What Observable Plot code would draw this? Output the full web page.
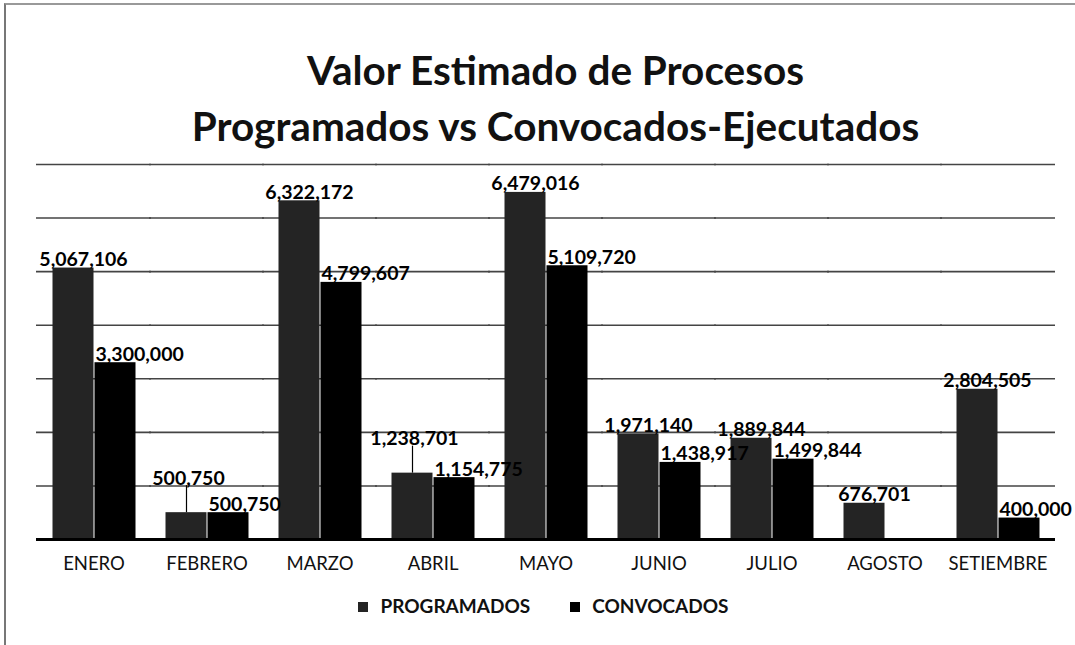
<!DOCTYPE html>
<html>
<head>
<meta charset="utf-8">
<script src="https://cdn.jsdelivr.net/npm/d3@7"></script>
<script src="https://cdn.jsdelivr.net/npm/@observablehq/plot@0.6"></script>
<style>
  html, body { margin: 0; padding: 0; background: #fff; }
  body { width: 1075px; height: 645px; overflow: hidden; font-family: Lato, "Open Sans", sans-serif; position: relative; }
  #frame { position: absolute; left: 4px; top: 3px; width: 1071px; height: 642px; border-left: 2px solid #777; border-top: 2px solid #999; box-sizing: border-box; pointer-events: none; }
  #title { height: 150px; box-sizing: border-box; padding-top: 42px; padding-left: 36px; text-align: center; font-weight: 700; font-size: 40.5px; line-height: 56px; color: #111; }
  #chart { height: 430px; }
  #legend { display: flex; justify-content: center; align-items: center; gap: 40px; padding-left: 12px; height: 50px; font-weight: 700; font-size: 19px; color: #111; }
  #legend span.sw { display: inline-block; width: 10px; height: 10px; margin-right: 12px; vertical-align: middle; position: relative; top: -1px; }
</style>
</head>
<body>
<div id="frame"></div>
<div id="title">Valor Estimado de Procesos<br>Programados vs Convocados-Ejecutados</div>
<div id="chart"></div>
<div id="legend"></div>
<script>
const months = ["ENERO", "FEBRERO", "MARZO", "ABRIL", "MAYO", "JUNIO", "JULIO", "AGOSTO", "SETIEMBRE"];
const programados = [5067106, 500750, 6322172, 1238701, 6479016, 1971140, 1889844, 676701, 2804505];
const convocados = [3300000, 500750, 4799607, 1154775, 5109720, 1438917, 1499844, null, 400000];
const seriesNames = ["PROGRAMADOS", "CONVOCADOS"];
const seriesColors = ["#242424", "#000000"];
const gridValues = [1000000, 2000000, 3000000, 4000000, 5000000, 6000000, 7000000];

const fmt = d3.format(",");
const data = months.flatMap((m, i) => [
  {month: m, serie: seriesNames[0], value: programados[i], other: convocados[i]},
  {month: m, serie: seriesNames[1], value: convocados[i], other: programados[i]}
]).filter(d => d.value != null);

const isLifted = d => d.serie === seriesNames[0] && d.other != null && Math.abs(d.value - d.other) < 150000;
const pNormal = data.filter(d => d.serie === seriesNames[0] && !isLifted(d));
const pLifted = data.filter(isLifted);
const cLabels = data.filter(d => d.serie === seriesNames[1]);

const labelStyle = {fx: "month", x: "serie", y: "value", text: d => fmt(d.value), lineAnchor: "bottom", fontWeight: "bold", fontSize: 19.5, fill: "#000"};

const chart = Plot.plot({
  width: 1075,
  height: 430,
  marginTop: 14,
  marginBottom: 41,
  marginLeft: 19,
  marginRight: 3,
  style: {fontFamily: "Lato, 'Open Sans', sans-serif", fontSize: "18.5px", color: "#111", background: "transparent"},
  fx: {domain: months, paddingInner: 0.25, paddingOuter: 0.25, label: null, axis: "bottom", tickSize: 0, tickPadding: 17},
  x: {domain: seriesNames, padding: 0, axis: null},
  y: {domain: [0, 7000000], axis: null},
  color: {domain: seriesNames, range: seriesColors},
  marks: [
    Plot.ruleY(gridValues, {stroke: "#444", strokeWidth: 1.6, insetLeft: -15, insetRight: -15}),
    Plot.barY(data, {fx: "month", x: "serie", y: "value", fill: "serie", insetLeft: 0.5, insetRight: 0.5}),
    Plot.ruleY([0], {stroke: "#000", strokeWidth: 3, insetLeft: -15, insetRight: -15}),
    Plot.ruleX(pLifted, {fx: "month", x: "serie", y1: "value", y2: "value", insetTop: -27, stroke: "#000", strokeWidth: 1.2}),
    Plot.text(pNormal, {...labelStyle, dx: 10, dy: -2}),
    Plot.text(pLifted, {...labelStyle, dx: 2, dy: -28}),
    Plot.text(cLabels, {...labelStyle, textAnchor: "start", dx: -20, dy: -2})
  ]
});
document.getElementById("chart").appendChild(chart);

const legend = document.getElementById("legend");
seriesNames.forEach((s, i) => {
  const item = document.createElement("div");
  item.innerHTML = `<span class="sw" style="background:${seriesColors[i]}"></span>${s}`;
  legend.appendChild(item);
});
</script>
</body>
</html>
